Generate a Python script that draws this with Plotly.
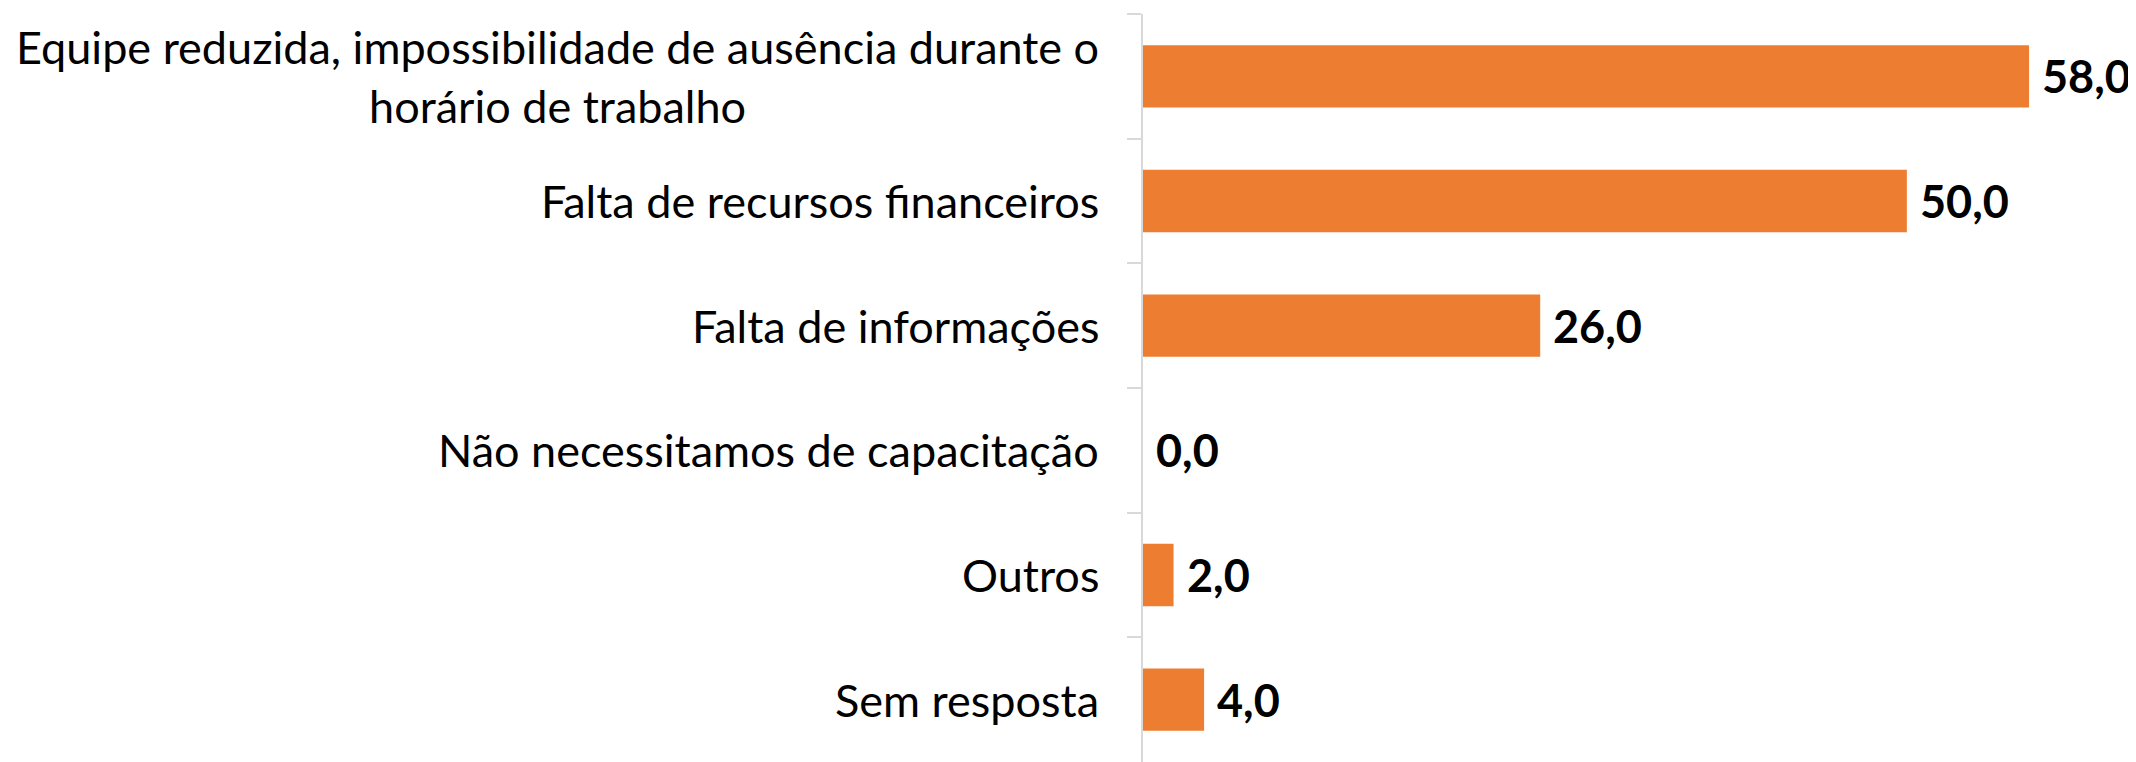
import plotly.graph_objects as go

categories = [
    "Equipe reduzida, impossibilidade de ausência durante o<br>horário de trabalho",
    "Falta de recursos financeiros",
    "Falta de informações",
    "Não necessitamos de capacitação",
    "Outros",
    "Sem resposta",
]
values = [58.0, 50.0, 26.0, 0.0, 2.0, 4.0]

FONT = "Lato"
BAR_COLOR = "#ED7D31"

fig = go.Figure()
fig.add_trace(go.Bar(
    x=values, y=categories, orientation="h",
    marker=dict(color=BAR_COLOR, line=dict(width=0)),
    width=0.5, hoverinfo="skip",
))

annotations = []
for i, (c, v) in enumerate(zip(categories, values)):
    annotations.append(dict(
        x=0, xref="paper", y=i, yref="y", text=c, showarrow=False,
        xanchor="right", yanchor="middle", align="center", xshift=-42,
        font=dict(family=FONT, size=45, color="#000000"),
    ))
    annotations.append(dict(
        x=v, xref="x", y=i, yref="y", text=f"{v:.1f}".replace(".", ","),
        showarrow=False, xanchor="left", yanchor="middle", xshift=11,
        font=dict(family=FONT, size=45, color="#000000", weight="bold"),
    ))

fig.update_layout(
    width=2128, height=754,
    margin=dict(l=1135, r=0, t=6, b=0),
    plot_bgcolor="white", paper_bgcolor="white",
    showlegend=False,
    annotations=annotations,
    xaxis=dict(range=[0, 65], visible=False, showgrid=False, zeroline=False),
    yaxis=dict(
        type="category", autorange="reversed",
        showticklabels=False, showgrid=False, zeroline=False,
        showline=True, linecolor="#d9d9d9", linewidth=2,
        ticks="outside", tickson="boundaries", ticklen=14,
        tickcolor="#d9d9d9", tickwidth=2,
    ),
)
fig.write_html("out.html")
